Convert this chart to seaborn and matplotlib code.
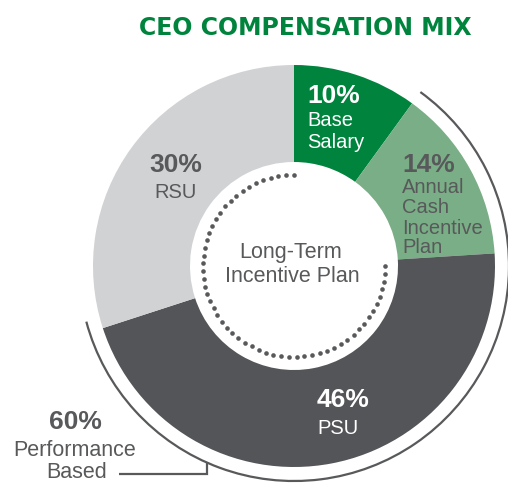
import numpy as np
import matplotlib
matplotlib.use("Agg")
import matplotlib.pyplot as plt
import seaborn as sns
from matplotlib.patches import Arc, Rectangle

# ---------------- data ----------------
categories = ["Base Salary", "Annual Cash Incentive Plan", "PSU", "RSU"]
shares = [10, 14, 46, 30]
label_lines = [["Base", "Salary"], ["Annual", "Cash", "Incentive", "Plan"], ["PSU"], ["RSU"]]
slice_colors = ["#00843d", "#7aae86", "#545558", "#d1d2d4"]
performance_share = 60
performance_lines = ["Performance", "Based"]
center_lines = ["Long-Term", "Incentive Plan"]
title = "CEO COMPENSATION MIX"

# ---------------- style ----------------
sns.set_theme(style="white")
plt.rcParams['font.family'] = ['Liberation Sans', 'DejaVu Sans']
GREEN = "#00843d"
GRAY = "#58595b"

W, H = 508, 483
fig = plt.figure(figsize=(W / 100, H / 100), dpi=100)
ax = fig.add_axes([0, 0, 1, 1])

def py(y):
    return H - y

cx, cy = 294, py(266)
R_out, R_in = 201, 104

wedges, _ = ax.pie(shares, colors=slice_colors, startangle=90, counterclock=False,
                   radius=R_out, center=(cx, cy),
                   wedgeprops=dict(width=R_out - R_in, linewidth=0))
clip = Rectangle((0, 0), 494, H, transform=ax.transData)
for w in wedges:
    w.set_clip_path(clip)

ax.set_xlim(0, W)
ax.set_ylim(0, H)
ax.set_aspect('equal')
ax.axis('off')

# dotted inner ring for the long-term incentive part
R_dot = 91
theta = np.deg2rad(np.linspace(90, 360, 56))
ax.scatter(cx + R_dot * np.cos(theta), cy + R_dot * np.sin(theta),
           s=11, color=GRAY, linewidths=0, zorder=3)

# performance-based bracket arc (Annual Cash + PSU)
cum = np.cumsum(shares)
start_compass = cum[0] / 100 * 360
end_compass = cum[2] / 100 * 360 + 3
R_arc = 215
arc = Arc((cx, cy), 2 * R_arc, 2 * R_arc, theta1=90 - end_compass,
          theta2=90 - start_compass, color=GRAY, lw=1.6, zorder=3)
ax.add_patch(arc)

# tick from the arc to the label
tx = 207
ty_arc = cy - np.sqrt(R_arc ** 2 - (tx - cx) ** 2)
ax.plot([tx, tx, 119], [ty_arc, py(474), py(474)], color=GRAY, lw=1.6,
        solid_joinstyle='miter', solid_capstyle='butt', zorder=3)

# ---------------- text ----------------
def txt(x, y, s, size, color, weight="normal", ha="center", family=None):
    kw = {}
    if family is not None:
        kw['family'] = family
    ax.text(x, py(y), s, fontsize=size, color=color, fontweight=weight,
            ha=ha, va="baseline", zorder=4, **kw)

PCT = 19
LAB = 14.5

# Base salary
txt(307, 103, f"{shares[0]}%", PCT, "white", "bold", "left")
for line, yb in zip(label_lines[0], [126, 148]):
    txt(307, yb, line, LAB, "white", ha="left")

# Annual cash incentive
txt(402, 172, f"{shares[1]}%", PCT, GRAY, "bold", "left")
for line, yb in zip(label_lines[1], [193, 213, 234, 253]):
    txt(402, yb, line, LAB, GRAY, ha="left")

# PSU
txt(343, 407, f"{shares[2]}%", PCT, "white", "bold")
txt(338, 434, label_lines[2][0], LAB, "white")

# RSU
txt(176, 172, f"{shares[3]}%", PCT, GRAY, "bold")
txt(175, 198, label_lines[3][0], LAB, GRAY)

# center
txt(291, 258, center_lines[0], 15.5, GRAY)
txt(292, 282, center_lines[1], 15.5, GRAY)

# performance based
txt(75, 429, f"{performance_share}%", PCT, GRAY, "bold")
txt(75, 456, performance_lines[0], 15.5, GRAY)
txt(77, 478, performance_lines[1], 15.5, GRAY)

# title
txt(305, 35, title, 17, GREEN, "bold", family=['DejaVu Sans'])

fig.savefig("out.png", dpi=100)
